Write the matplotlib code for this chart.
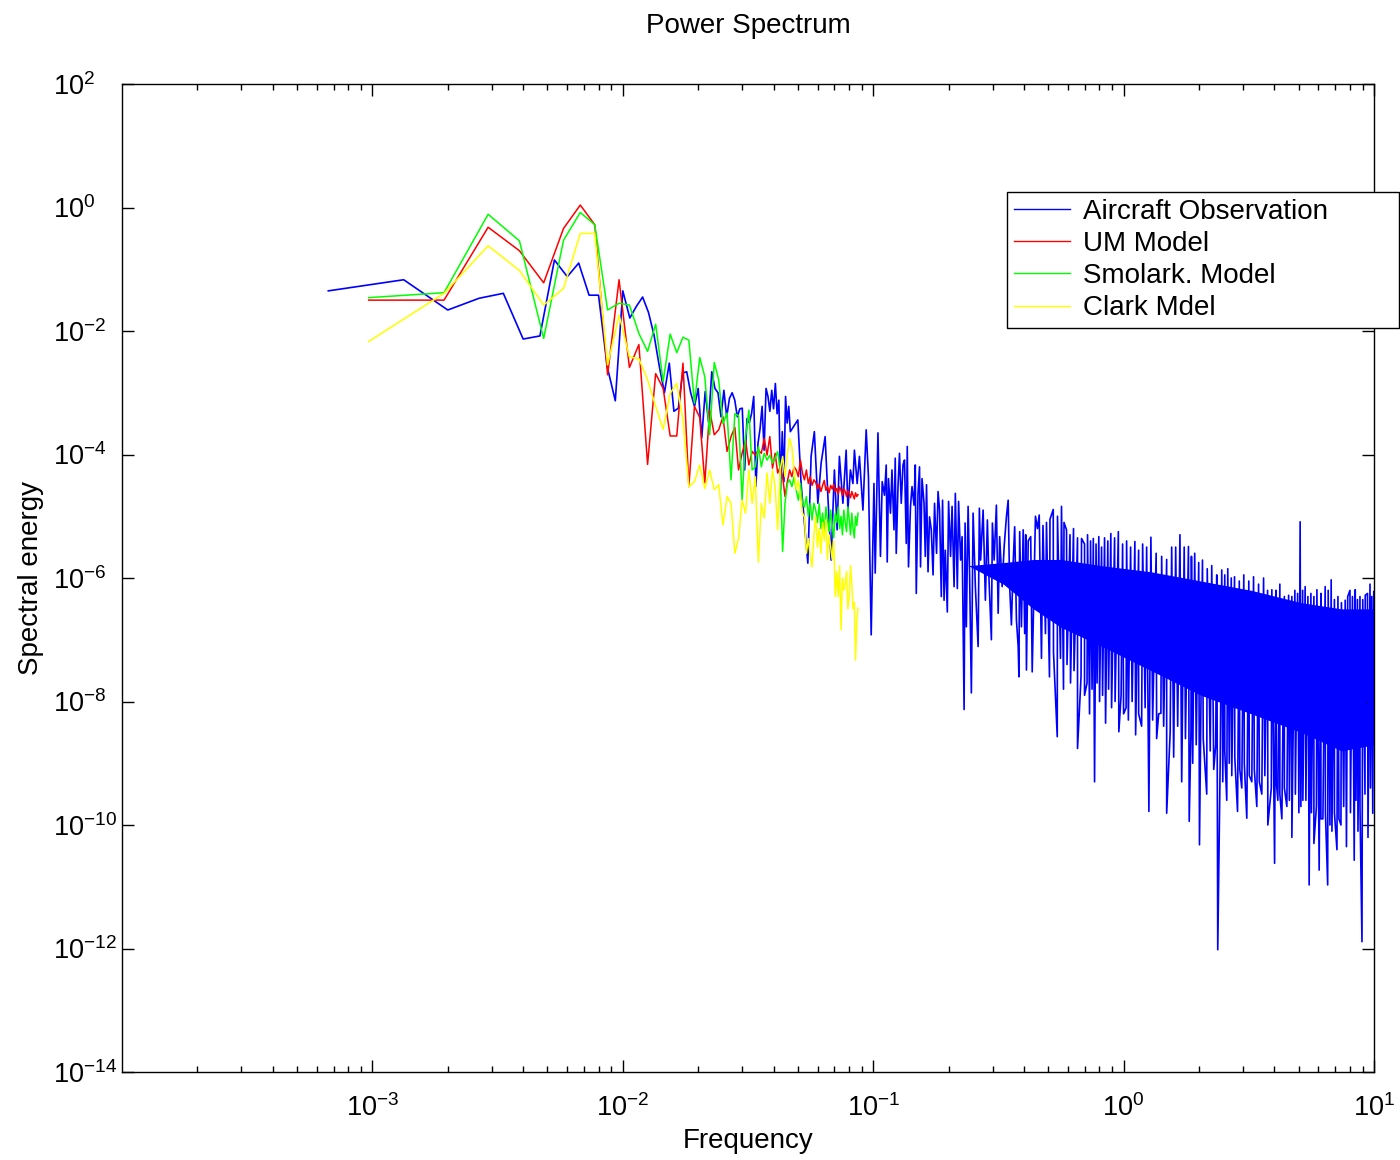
import numpy as np
import matplotlib
matplotlib.use("Agg")
import matplotlib.pyplot as plt
from matplotlib.ticker import LogLocator, NullLocator

plt.rcParams['font.family'] = 'Liberation Sans'
plt.rcParams['mathtext.fontset'] = 'custom'
plt.rcParams['mathtext.rm'] = 'Liberation Sans'
plt.rcParams['mathtext.it'] = 'Liberation Sans:italic'
plt.rcParams['axes.unicode_minus'] = True

# ---- aircraft observation (df = 1/1500 Hz), log10 of spectral energy ----
obs_low_k = np.arange(1, 71)
obs_low_e = [-1.35, -1.17, -1.66, -1.47, -1.39, -2.13, -2.08, -0.85, -1.12, -0.90,
             -1.42, -1.42, -2.58, -3.13, -1.35, -1.79, -1.60, -1.45, -1.70, -2.07,
             -2.58, -3.00, -2.52, -3.30, -3.25, -2.68, -2.66, -3.00, -3.22, -2.93,
             -3.73, -2.98, -3.47, -2.66, -2.93, -3.00, -3.39, -2.96, -3.39, -3.09,
             -3.00, -3.12, -3.39, -3.26, -3.25, -4.25, -3.42, -3.49, -3.34, -3.06,
             -4.52, -3.82, -3.58, -3.22, -3.93, -2.93, -3.06, -3.30, -2.96, -3.26,
             -2.85, -3.34, -3.12, -4.57, -3.63, -4.44, -3.06, -3.49, -3.22, -3.63]

# log10 frequency / log10 energy picks, 0.05 - 0.43 Hz
obs_mid_lf = [-1.301, -1.288, -1.261, -1.248, -1.235, -1.221, -1.208, -1.192, -1.181, -1.168,
              -1.155, -1.144, -1.135, -1.121, -1.108, -1.101, -1.091, -1.081, -1.075, -1.064,
              -1.055, -1.041, -1.028, -1.019, -1.008, -0.997, -0.992, -0.981, -0.971, -0.964,
              -0.955, -0.948, -0.944, -0.939, -0.931, -0.925, -0.917, -0.912, -0.908, -0.901,
              -0.895, -0.888, -0.881, -0.875, -0.868, -0.864, -0.859, -0.851, -0.845, -0.837,
              -0.832, -0.828, -0.821, -0.815, -0.811, -0.805, -0.797, -0.792, -0.787, -0.781,
              -0.775, -0.768, -0.761, -0.755, -0.747, -0.741, -0.735, -0.728, -0.723, -0.717,
              -0.712, -0.704, -0.699, -0.691, -0.685, -0.677, -0.672, -0.664, -0.659, -0.651,
              -0.645, -0.637, -0.633, -0.628, -0.621, -0.615, -0.608, -0.601, -0.592, -0.581,
              -0.576, -0.571, -0.561, -0.552, -0.544, -0.539, -0.528, -0.524, -0.517, -0.508,
              -0.501, -0.495, -0.485, -0.477, -0.468, -0.461, -0.455, -0.448, -0.441, -0.435,
              -0.428, -0.421, -0.418, -0.415, -0.408, -0.401, -0.395, -0.391, -0.388, -0.381,
              -0.371, -0.365]
obs_mid_e = [-3.44, -4.47, -5.76, -4.03, -3.63, -4.79, -4.14, -3.71, -4.68, -5.71,
             -4.25, -5.22, -4.03, -4.79, -3.93, -4.90, -4.25, -4.47, -3.93, -4.47,
             -4.03, -4.90, -3.60, -4.36, -6.92, -4.47, -5.92, -3.65, -5.65, -4.44,
             -4.66, -4.17, -5.74, -4.39, -4.95, -4.25, -5.22, -4.06, -5.60, -4.52,
             -3.98, -4.79, -4.17, -4.09, -5.44, -3.87, -5.82, -4.84, -4.52, -4.82,
             -4.17, -6.25, -4.63, -4.20, -5.82, -4.39, -4.79, -5.65, -4.49, -5.90,
             -5.01, -5.22, -5.95, -4.79, -5.60, -4.60, -4.90, -6.30, -4.74, -6.36,
             -5.55, -6.55, -4.76, -5.65, -4.84, -6.14, -4.63, -6.17, -4.76, -5.71,
             -5.33, -8.13, -5.11, -6.79, -4.84, -5.95, -7.86, -4.95, -6.14, -7.11,
             -4.87, -5.71, -4.90, -6.36, -5.06, -5.87, -7.00, -5.11, -5.71, -4.82,
             -6.57, -5.33, -6.14, -5.49, -5.01, -4.74, -6.14, -6.76, -5.76, -5.17,
             -6.68, -7.11, -7.60, -5.25, -6.79, -5.22, -6.90, -5.30, -7.49, -5.40,
             -5.33, -7.52]

# dense part above 0.43 Hz: upper and lower spike tips
obs_up_lf = [-0.352, -0.337, -0.308, -0.281, -0.248, -0.228, -0.200, -0.168, -0.144, -0.121,
             -0.099, -0.076, -0.051, -0.021, 0.012, 0.045, 0.076, 0.109, 0.152, 0.192,
             0.225, 0.259, 0.284, 0.315, 0.352, 0.392, 0.416, 0.443, 0.480, 0.519,
             0.559, 0.592, 0.624, 0.659, 0.684, 0.705, 0.725, 0.748, 0.772, 0.805,
             0.829, 0.856, 0.885, 0.904, 0.925, 0.944, 0.965, 0.984, 0.999,
             -0.344, -0.322, -0.294, -0.264, -0.238, -0.214, -0.184, -0.156, -0.132, -0.110,
             -0.088, -0.063, -0.036, -0.004, 0.028, 0.060, 0.092, 0.130, 0.172, 0.208,
             0.242, 0.271, 0.300, 0.334, 0.372, 0.404, 0.430, 0.462, 0.500, 0.539,
             0.575, 0.608, 0.642, 0.672, 0.695, 0.715, 0.736, 0.760, 0.788, 0.817,
             0.842, 0.870, 0.895, 0.914, 0.934, 0.955, 0.974, 0.991]
obs_up_e = [-5.00, -4.98, -5.10, -4.89, -4.84, -5.22, -5.20, -5.36, -5.30, -5.36,
            -5.33, -5.35, -5.28, -5.25, -5.40, -5.41, -5.45, -5.34, -5.65, -5.50,
            -5.30, -5.49, -5.60, -5.71, -5.80, -5.87, -5.85, -5.98, -5.95, -5.98,
            -6.00, -6.19, -6.10, -6.28, -6.20, -5.09, -6.14, -6.25, -6.19, -6.14,
            -6.03, -6.30, -6.36, -6.20, -6.19, -6.30, -6.28, -6.10, -6.22,
            -5.20, -5.15, -5.05, -5.00, -5.10, -5.30, -5.35, -5.45, -5.40, -5.45,
            -5.50, -5.40, -5.35, -5.45, -5.50, -5.55, -5.50, -5.60, -5.70, -5.50,
            -5.50, -5.65, -5.75, -5.85, -5.95, -5.95, -6.00, -6.05, -6.05, -6.10,
            -6.20, -6.20, -6.30, -6.30, -6.25, -6.20, -6.30, -6.30, -6.25, -6.20,
            -6.35, -6.40, -6.30, -6.30, -6.35, -6.35, -6.25, -6.30]
obs_dn_lf = [-0.328, -0.296, -0.265, -0.240, -0.212, -0.184, -0.156, -0.136, -0.116, -0.096,
             -0.072, -0.048, -0.019, 0.000, 0.019, 0.048, 0.072, 0.101, 0.132, 0.149,
             0.172, 0.200, 0.232, 0.262, 0.276, 0.303, 0.332, 0.360, 0.376, 0.396,
             0.412, 0.432, 0.455, 0.472, 0.492, 0.512, 0.532, 0.552, 0.576, 0.603,
             0.616, 0.632, 0.652, 0.672, 0.700, 0.716, 0.741, 0.760, 0.781, 0.796,
             0.815, 0.832, 0.852, 0.868, 0.890, 0.921, 0.936, 0.952, 0.976, 0.995,
             -0.312, -0.280, -0.252, -0.226, -0.198, -0.170, -0.146, -0.126, -0.106, -0.084,
             -0.060, -0.034, -0.010, 0.010, 0.034, 0.060, 0.086, 0.116, 0.140, 0.160,
             0.186, 0.216, 0.247, 0.269, 0.290, 0.318, 0.346, 0.368, 0.386, 0.404,
             0.422, 0.444, 0.464, 0.482, 0.502, 0.522, 0.542, 0.564, 0.590, 0.610,
             0.624, 0.642, 0.662, 0.686, 0.708, 0.728, 0.750, 0.770, 0.788, 0.806,
             0.824, 0.842, 0.860, 0.879, 0.906, 0.928, 0.944, 0.964, 0.986]
obs_dn_e = [-7.30, -7.60, -8.57, -7.80, -7.70, -8.76, -7.90, -8.20, -9.30, -8.00,
            -8.35, -8.10, -8.49, -8.20, -8.30, -8.54, -8.40, -9.78, -8.60, -8.19,
            -9.81, -8.90, -9.30, -9.94, -9.00, -10.32, -9.50, -9.10, -12.02, -9.30,
            -9.60, -9.20, -9.78, -9.40, -9.89, -9.30, -9.70, -9.50, -10.00, -10.62,
            -9.60, -9.90, -9.70, -10.20, -9.80, -9.60, -10.97, -10.30, -10.73, -9.90,
            -10.97, -10.10, -10.40, -10.00, -10.35, -10.57, -10.10, -11.89, -10.20, -9.81,
            -6.90, -7.20, -7.30, -7.40, -7.50, -7.60, -7.70, -7.80, -7.70, -7.90,
            -7.80, -8.00, -7.90, -8.10, -8.00, -8.20, -8.10, -8.30, -8.20, -8.40,
            -8.50, -8.40, -8.60, -8.50, -8.70, -8.60, -8.80, -8.70, -8.90, -8.80,
            -9.00, -8.90, -9.10, -9.00, -9.20, -9.10, -9.30, -9.20, -9.40, -9.30,
            -9.50, -9.40, -9.60, -9.50, -9.70, -9.60, -9.80, -9.70, -9.90, -9.80,
            -10.00, -9.80, -9.90, -9.70, -9.80, -9.60, -9.70, -9.50, -9.40]

# solid core of the band
band_lf = [-0.62, -0.48, -0.36, -0.25, -0.09, 0.11, 0.31, 0.51, 0.71, 0.87, 1.00]
band_top = [-5.8, -5.75, -5.7, -5.7, -5.8, -5.9, -6.05, -6.2, -6.4, -6.5, -6.5]
band_bot = [-5.8, -6.1, -6.5, -6.8, -7.1, -7.5, -7.9, -8.2, -8.5, -8.8, -8.7]

# ---- models (df = 1/1035 Hz), log10 of spectral energy ----
model_k = np.arange(1, 91)
um_e = [-1.50, -1.50, -0.32, -0.70, -1.22, -0.34, 0.04, -0.28, -2.71, -1.17,
        -2.59, -2.22, -4.16, -2.69, -2.93, -3.70, -3.70, -2.52, -4.52, -3.22,
        -3.40, -4.46, -3.28, -3.68, -3.60, -3.39, -3.95, -3.71, -3.56, -4.25,
        -3.98, -3.77, -4.17, -3.95, -4.01, -3.93, -3.98, -3.74, -4.01, -3.71,
        -4.22, -3.98, -4.30, -4.20, -4.36, -4.68, -4.44, -4.25, -4.36, -4.20,
        -4.25, -4.36, -4.09, -4.30, -4.41, -4.25, -4.47, -4.36, -4.50, -4.41,
        -4.45, -4.55, -4.48, -4.60, -4.50, -4.42, -4.58, -4.52, -4.62, -4.50,
        -4.56, -4.48, -4.60, -4.55, -4.64, -4.52, -4.58, -4.66, -4.55, -4.60,
        -4.68, -4.58, -4.63, -4.70, -4.60, -4.66, -4.72, -4.62, -4.68, -4.65]
smolark_e = [-1.46, -1.38, -0.11, -0.54, -2.12, -0.53, -0.08, -0.28, -1.66, -1.55,
             -1.58, -2.04, -2.33, -1.89, -2.82, -2.05, -2.35, -2.10, -2.15, -3.17,
             -2.43, -2.74, -3.68, -2.51, -2.79, -3.50, -3.33, -4.41, -3.34, -3.37,
             -4.74, -3.71, -3.28, -4.25, -4.20, -3.87, -4.20, -3.98, -4.09, -4.01,
             -4.14, -4.06, -3.95, -4.25, -5.57, -4.79, -4.47, -4.41, -4.52, -4.36,
             -4.58, -4.74, -4.47, -4.79, -4.85, -4.68, -5.00, -4.79, -5.06, -4.79,
             -4.90, -5.10, -4.80, -5.20, -4.95, -5.30, -4.85, -5.05, -5.25, -4.90,
             -5.15, -5.35, -4.95, -5.10, -4.85, -5.20, -5.00, -5.30, -4.90, -5.10,
             -5.25, -4.85, -5.05, -5.30, -4.95, -5.20, -5.35, -5.00, -5.15, -4.95]
clark_e = [-2.17, -1.39, -0.62, -1.02, -1.58, -1.31, -0.42, -0.42, -2.55, -1.74,
           -2.42, -2.45, -2.79, -3.22, -3.59, -3.01, -2.85, -3.44, -4.52, -4.44,
           -4.17, -4.55, -4.25, -4.57, -4.49, -5.14, -4.68, -4.79, -5.60, -5.36,
           -4.74, -4.95, -4.25, -4.79, -4.36, -5.74, -4.79, -5.03, -4.30, -4.79,
           -4.25, -4.52, -5.22, -4.25, -4.03, -4.36, -3.98, -3.74, -3.88, -4.25,
           -4.57, -4.41, -4.68, -4.95, -5.01, -5.60, -5.36, -5.65, -5.82, -5.30,
           -5.00, -5.50, -5.20, -5.60, -5.10, -5.40, -5.06, -5.70, -5.30, -5.50,
           -5.70, -5.40, -6.30, -5.90, -6.30, -5.80, -6.84, -6.00, -6.20, -6.10,
           -5.90, -6.50, -6.30, -5.80, -6.10, -6.50, -6.40, -7.33, -6.70, -6.49]

labels = ['Aircraft Observation', 'UM Model', 'Smolark. Model', 'Clark Mdel']

# assemble observation series
dense_lf = np.concatenate([obs_up_lf, obs_dn_lf])
dense_e = np.concatenate([obs_up_e, obs_dn_e])
order = np.argsort(dense_lf, kind='stable')
obs_f = np.concatenate([obs_low_k / 1500.0, 10.0 ** np.array(obs_mid_lf), 10.0 ** dense_lf[order]])
obs_p = 10.0 ** np.concatenate([obs_low_e, obs_mid_e, dense_e[order]])
model_f = model_k / 1035.0

fig = plt.figure(figsize=(14, 11.6), dpi=100)
ax = fig.add_axes([122 / 1400, 88 / 1160, 1252 / 1400, 988 / 1160])

ax.fill_between(10.0 ** np.array(band_lf), 10.0 ** np.array(band_bot), 10.0 ** np.array(band_top),
                color='blue', linewidth=0)
l1, = ax.plot(obs_f, obs_p, color='blue', lw=1.2)
l2, = ax.plot(model_f, 10.0 ** np.array(um_e), color='red', lw=1.1)
l3, = ax.plot(model_f, 10.0 ** np.array(smolark_e), color='#00ff00', lw=1.1)
l4, = ax.plot(model_f, 10.0 ** np.array(clark_e), color='yellow', lw=1.1)

ax.set_xscale('log')
ax.set_yscale('log')
ax.set_xlim(1e-4, 10)
ax.set_ylim(1e-14, 1e2)
ax.set_xticks([1e-3, 1e-2, 1e-1, 1e0, 1e1])
ax.xaxis.set_minor_locator(LogLocator(base=10, subs=np.arange(2, 10)))
ax.set_yticks(10.0 ** np.arange(-14, 3, 2))
ax.yaxis.set_minor_locator(NullLocator())
ax.tick_params(which='both', direction='in', top=True, right=True, width=1.0)
ax.tick_params(which='major', length=8.5)
ax.tick_params(which='minor', length=4.3)
ax.tick_params(axis='x', labelsize=19.5, pad=16)
ax.tick_params(axis='y', labelsize=19.5, pad=50)
plt.setp(ax.get_yticklabels(), ha='left')
for sp in ax.spines.values():
    sp.set_linewidth(1.0)

ax.set_title('Power Spectrum', fontsize=20, pad=37)
ax.set_xlabel('Frequency', fontsize=20, labelpad=4)
ax.set_ylabel('Spectral energy', fontsize=20, labelpad=6)

leg = ax.legend([l1, l2, l3, l4], labels, loc='upper left',
                bbox_to_anchor=(1007 / 1400, 0, 392 / 1400, 1 - 192 / 1160),
                bbox_transform=fig.transFigure, mode='expand',
                fontsize=20, handlelength=2.0, handletextpad=0.5,
                labelspacing=0.22, borderpad=0.25, borderaxespad=0,
                fancybox=False, framealpha=1, edgecolor='black')
leg.get_frame().set_linewidth(1.0)
for h in leg.legend_handles:
    h.set_linewidth(1.0)

fig.savefig('out.png', dpi=100)
